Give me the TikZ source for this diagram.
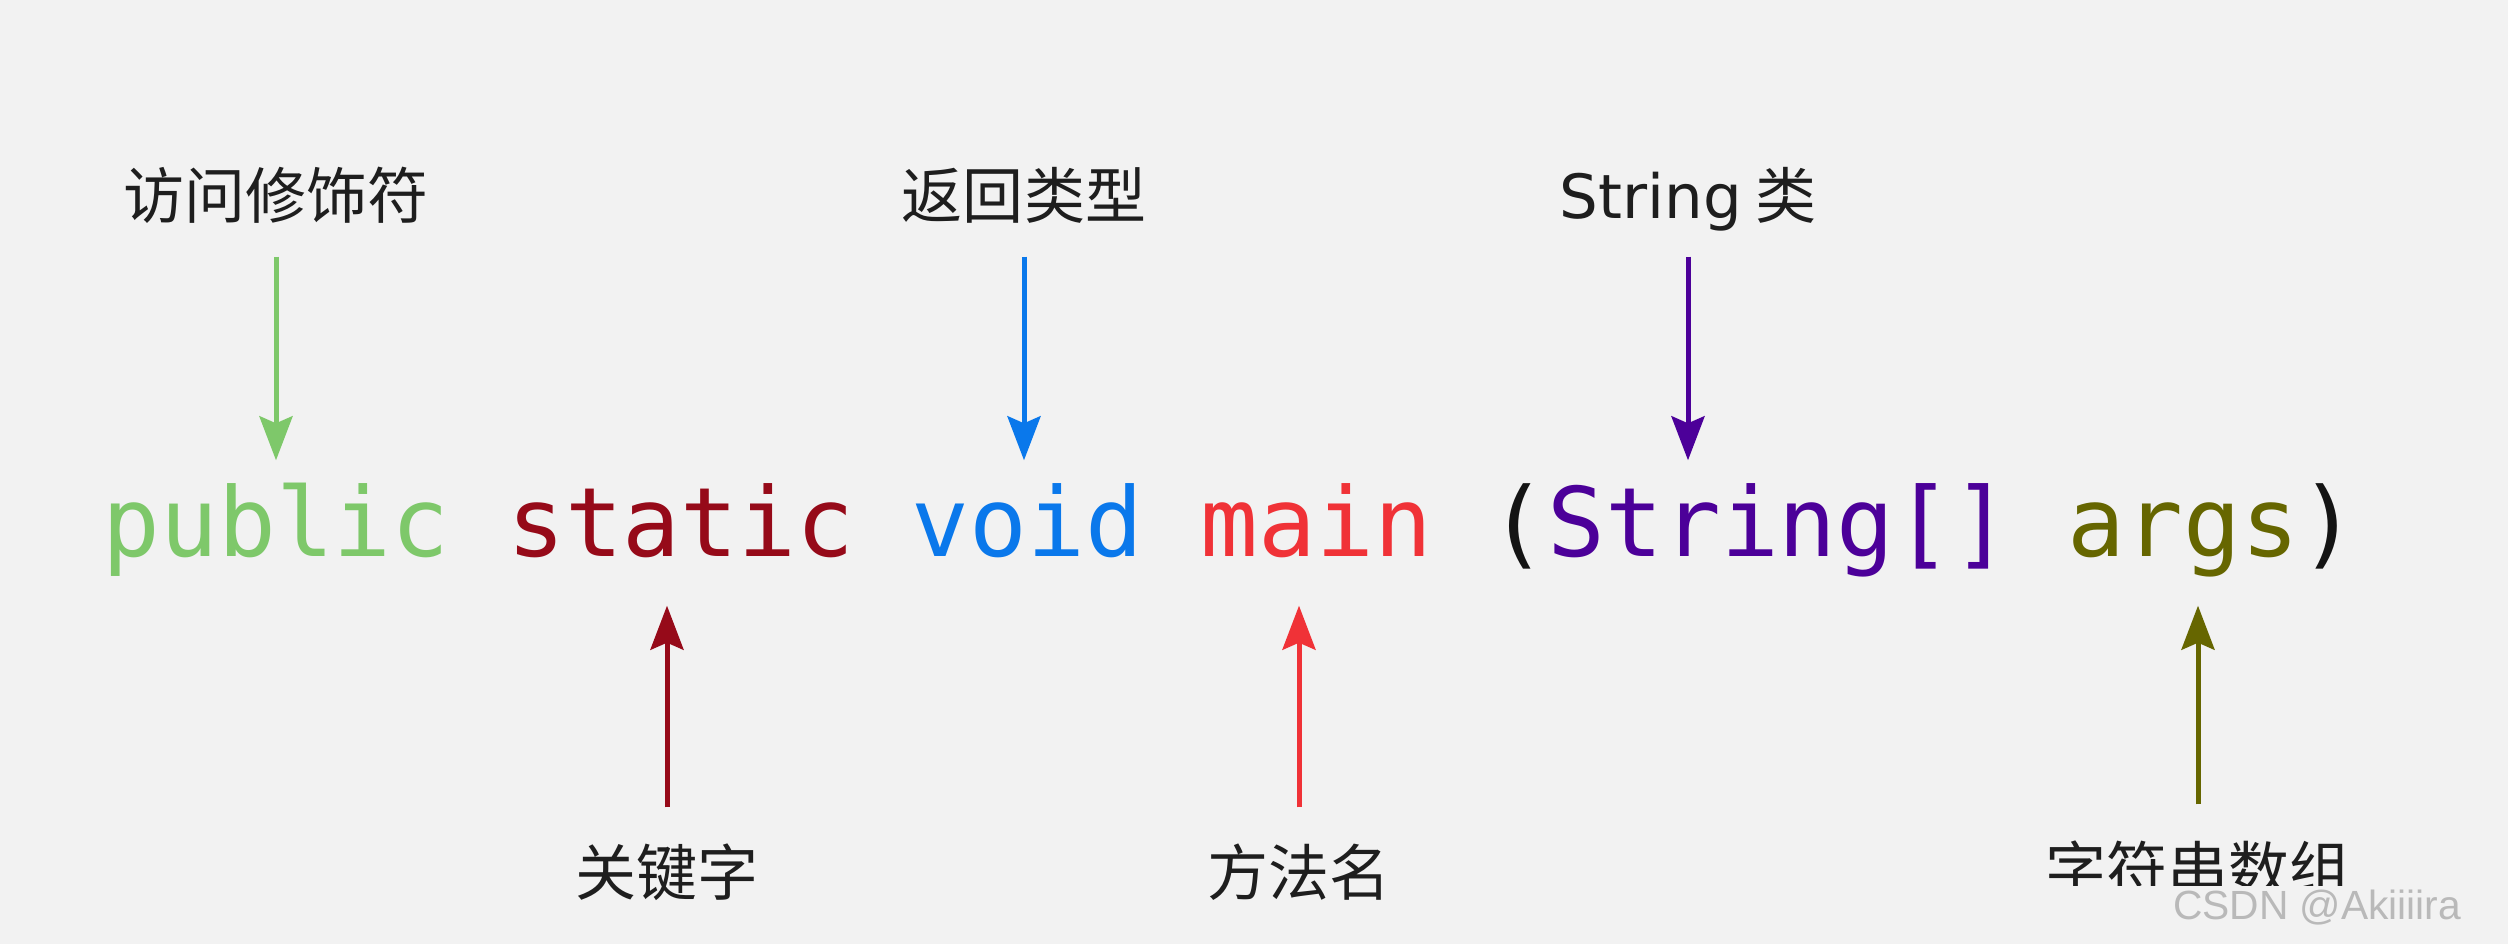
\documentclass[tikz,border=0pt]{standalone}
\usepackage{fontspec}
\setmainfont{DejaVu Sans}
\newfontfamily\cjk{Noto Sans CJK SC}
\newfontfamily\codefont{DejaVu Sans Mono}
\newfontfamily\latinlab{DejaVu Sans}
\newfontfamily\wmfont{Liberation Sans}
\usetikzlibrary{arrows.meta}
\definecolor{bg}{RGB}{242,242,242}
\definecolor{labc}{RGB}{30,30,30}
\definecolor{cpub}{RGB}{126,200,106}
\definecolor{csta}{RGB}{150,10,25}
\definecolor{cvoid}{RGB}{10,120,235}
\definecolor{cmain}{RGB}{240,50,55}
\definecolor{cstr}{RGB}{76,0,153}
\definecolor{cargs}{RGB}{102,102,0}
\definecolor{cpar}{RGB}{20,20,20}
\definecolor{wmc}{RGB}{185,185,185}
\begin{document}
\begin{tikzpicture}[x=0.1mm,y=-0.1mm,
  code/.style={anchor=base west, inner sep=0pt,
    font=\codefont\fontsize{27.32pt}{30pt}\selectfont,
    text height=7.3mm, text depth=2.3mm},
  lab/.style={inner sep=0pt, text=labc,
    font=\cjk\fontsize{17.36pt}{20pt}\selectfont,
    text height=5.2mm, text depth=0.6mm},
  arr/.style={line width=0.5mm,
    -{Stealth[length=4.4mm,width=3.3mm,inset=0.7mm]}},
  downarr/.style={arr, shorten <=3.1mm, shorten >=2.3mm},
  uparr/.style={arr, shorten <=3.6mm, shorten >=2.5mm}]
\fill[bg] (0,0) rectangle (2508,944);
\useasboundingbox (0,0) rectangle (2508,944);

% code line
\node[code, text=cpub] (pub) at (102,557) {public};
\node[code, text=csta] (sta) at (506.6,557) {static};
\node[code, text=cvoid] (void) at (911.2,557) {void};
\node[code, text=cmain] (mainw) at (1200.2,557) {main};
\node[code, text=cpar] (lp) at (1489.2,557) {(};
\node[code, text=cstr] (str) at (1547,557) {String[]};
\node[code, text=cargs] (args) at (2067.2,557) {args};
\node[code, text=cpar] (rp) at (2298.4,557) {)};

% top labels
\node[lab] (l1) at (276,196) {访问修饰符};
\node[lab] (l2) at (1024,196) {返回类型};
\node[lab] (l3) at (1688,196) {{\latinlab String} 类};

% bottom labels
\node[lab] (l4) at (667,873) {关键字};
\node[lab] (l5) at (1299,873) {方法名};
\node[lab] (l6) at (2198,870) {字符串数组};

% arrows
\draw[downarr, cpub] (l1.south) -- (l1.south |- pub.north);
\draw[downarr, cvoid] (l2.south) -- (l2.south |- void.north);
\draw[downarr, cstr] (l3.south) -- (l3.south |- str.north);
\draw[uparr, csta] (l4.north) -- (l4.north |- sta.south);
\draw[uparr, cmain] (l5.north) -- (l5.north |- mainw.south);
\draw[uparr, cargs] (l6.north) -- (l6.north |- args.south);

% watermark band
\fill[bg] (1885,886) rectangle (2508,944);
\node[anchor=base east, inner sep=0pt, text=wmc,
  font=\wmfont\fontsize{11.6pt}{13pt}\selectfont] (wm) at (2462,920) {CSDN @Akiiiira};
\end{tikzpicture}
\end{document}
